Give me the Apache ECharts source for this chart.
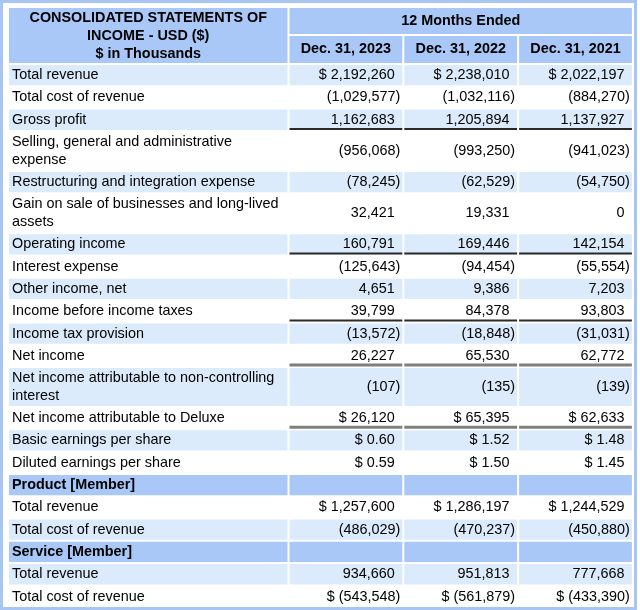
<!DOCTYPE html>
<html>
<head>
<meta charset="utf-8">
<script src="https://cdn.jsdelivr.net/npm/echarts@6/dist/echarts.min.js"></script>
<style>
html,body{margin:0;padding:0;background:#fff;}
#chart{width:640px;height:610px;}
</style>
</head>
<body>
<div id="chart"></div>
<script>
// ---------- DATA ----------
const titleLines = ['CONSOLIDATED STATEMENTS OF', 'INCOME - USD ($)', '$ in Thousands'];
const periodLabel = '12 Months Ended';
const columns = ['Dec. 31, 2023', 'Dec. 31, 2022', 'Dec. 31, 2021'];
const rowLabels = [
  'Total revenue',
  'Total cost of revenue',
  'Gross profit',
  'Selling, general and administrative\nexpense',
  'Restructuring and integration expense',
  'Gain on sale of businesses and long-lived\nassets',
  'Operating income',
  'Interest expense',
  'Other income, net',
  'Income before income taxes',
  'Income tax provision',
  'Net income',
  'Net income attributable to non-controlling\ninterest',
  'Net income attributable to Deluxe',
  'Basic earnings per share',
  'Diluted earnings per share',
  'Product [Member]',
  'Total revenue',
  'Total cost of revenue',
  'Service [Member]',
  'Total revenue',
  'Total cost of revenue'
];
const values2023 = [2192260, -1029577, 1162683, -956068, -78245, 32421, 160791, -125643, 4651, 39799, -13572, 26227, -107, 26120, 0.60, 0.59, null, 1257600, -486029, null, 934660, -543548];
const values2022 = [2238010, -1032116, 1205894, -993250, -62529, 19331, 169446, -94454, 9386, 84378, -18848, 65530, -135, 65395, 1.52, 1.50, null, 1286197, -470237, null, 951813, -561879];
const values2021 = [2022197, -884270, 1137927, -941023, -54750, 0, 142154, -55554, 7203, 93803, -31031, 62772, -139, 62633, 1.48, 1.45, null, 1244529, -450880, null, 777668, -433390];
const dollarRows = [0, 13, 14, 15, 17, 21];
const decimalRows = [14, 15];
const sectionRows = [16, 19];
const singleRuleRows = [2, 6, 9];
const doubleRuleRows = [11, 13];

// ---------- LAYOUT / STYLE ----------
const valueSets = [values2023, values2022, values2021];
const colWidths = [280.5, 114.8, 114.8, 114.8];
const headerHeights = [28, 29];
const ROW_H = 22.3, EXTRA_LINE = 17.7;
const HEAD_BG = '#a9c8f7', BAND_BG = '#dcebfc', FRAME = '#a9c6f3';
const FONT = '14.4px "Liberation Sans", Arial, sans-serif';
const BOLD = 'bold 14.4px "Liberation Sans", Arial, sans-serif';

const colEdges = [0];
colWidths.forEach(w => colEdges.push(colEdges[colEdges.length - 1] + w));
const headTotal = headerHeights[0] + headerHeights[1];
const rowTops = [headTotal];
rowLabels.forEach(l => {
  const lines = l.split('\n').length;
  rowTops.push(rowTops[rowTops.length - 1] + ROW_H + EXTRA_LINE * (lines - 1));
});
const totalW = colEdges[colEdges.length - 1];
const totalH = rowTops[rowTops.length - 1];

function groupDigits(s) {
  return s.replace(/\B(?=(\d{3})+(?!\d))/g, ',');
}
function fmt(v, r) {
  if (v === null || v === undefined) return '';
  const dec = decimalRows.includes(r) ? 2 : 0;
  const parts = Math.abs(v).toFixed(dec).split('.');
  let s = groupDigits(parts[0]) + (parts[1] ? '.' + parts[1] : '');
  if (v < 0) s = '(' + s + ')';
  if (dollarRows.includes(r)) s = '$ ' + s;
  return s;
}

const cells = [{ type: 'title' }, { type: 'period' }];
columns.forEach((c, i) => cells.push({ type: 'colhead', c: i }));
rowLabels.forEach((l, r) => {
  cells.push({ type: 'label', r: r });
  valueSets.forEach((vs, c) => cells.push({ type: 'value', r: r, c: c }));
});

function renderItem(params, api) {
  const cell = cells[params.dataIndex];
  let x0, x1, y0, y1;
  if (cell.type === 'title') { x0 = 0; x1 = colEdges[1]; y0 = 0; y1 = headTotal; }
  else if (cell.type === 'period') { x0 = colEdges[1]; x1 = colEdges[4]; y0 = 0; y1 = headerHeights[0]; }
  else if (cell.type === 'colhead') { x0 = colEdges[cell.c + 1]; x1 = colEdges[cell.c + 2]; y0 = headerHeights[0]; y1 = headTotal; }
  else if (cell.type === 'label') { x0 = 0; x1 = colEdges[1]; y0 = rowTops[cell.r]; y1 = rowTops[cell.r + 1]; }
  else { x0 = colEdges[cell.c + 1]; x1 = colEdges[cell.c + 2]; y0 = rowTops[cell.r]; y1 = rowTops[cell.r + 1]; }
  const p0 = api.coord([x0, y0]);
  const p1 = api.coord([x1, y1]);
  const L = p0[0], R = p1[0], T = p0[1], B = p1[1];
  const cy = (T + B) / 2;
  const children = [];
  let fill = '#ffffff';
  const isHead = cell.type === 'title' || cell.type === 'period' || cell.type === 'colhead';
  if (isHead) fill = HEAD_BG;
  else if (sectionRows.includes(cell.r)) fill = HEAD_BG;
  else if (cell.r % 2 === 0) fill = BAND_BG;
  children.push({ type: 'rect', shape: { x: L + 1, y: T + 1, width: R - L - 2, height: B - T - 2 }, style: { fill: fill } });

  if (cell.type === 'title') {
    children.push({ type: 'text', style: { text: titleLines.join('\n'), x: (L + R) / 2, y: cy + 0.5, align: 'center', verticalAlign: 'middle', font: BOLD, lineHeight: 18, fill: '#000' } });
  } else if (cell.type === 'period') {
    children.push({ type: 'text', style: { text: periodLabel, x: (L + R) / 2, y: cy, align: 'center', verticalAlign: 'middle', font: BOLD, fill: '#000' } });
  } else if (cell.type === 'colhead') {
    children.push({ type: 'text', style: { text: columns[cell.c], x: (L + R) / 2, y: cy, align: 'center', verticalAlign: 'middle', font: BOLD, fill: '#000' } });
  } else if (cell.type === 'label') {
    const bold = sectionRows.includes(cell.r);
    children.push({ type: 'text', style: { text: rowLabels[cell.r], x: L + 4, y: cy, align: 'left', verticalAlign: 'middle', font: bold ? BOLD : FONT, lineHeight: EXTRA_LINE, fill: '#000' } });
  } else {
    const v = valueSets[cell.c][cell.r];
    const s = fmt(v, cell.r);
    if (s) {
      const neg = v < 0;
      children.push({ type: 'text', style: { text: s, x: R - (neg ? 3 : 8.5), y: cy, align: 'right', verticalAlign: 'middle', font: FONT, fill: '#000' } });
    }
    if (singleRuleRows.includes(cell.r)) {
      children.push({ type: 'rect', shape: { x: L + 1, y: B - 3, width: R - L - 2, height: 2 }, style: { fill: '#2a2a2a' } });
    } else if (doubleRuleRows.includes(cell.r)) {
      children.push({ type: 'rect', shape: { x: L + 1, y: B - 3.5, width: R - L - 2, height: 3 }, style: { fill: '#7f7f7f' } });
    }
  }
  return { type: 'group', children: children };
}

const chart = echarts.init(document.getElementById('chart'), null, { renderer: 'canvas' });
chart.setOption({
  animation: false,
  backgroundColor: '#ffffff',
  grid: { left: 8, top: 7, width: totalW, height: totalH },
  xAxis: { type: 'value', min: 0, max: totalW, show: false },
  yAxis: { type: 'value', min: 0, max: totalH, inverse: true, show: false },
  graphic: [{
    type: 'rect', silent: true, z: 100,
    shape: { x: 1.5, y: 1.5, width: 634, height: 607 },
    style: { fill: 'none', stroke: FRAME, lineWidth: 3 }
  }],
  series: [{
    type: 'custom',
    silent: true,
    renderItem: renderItem,
    data: cells.map((c, i) => [i, 0])
  }]
});
</script>
</body>
</html>
